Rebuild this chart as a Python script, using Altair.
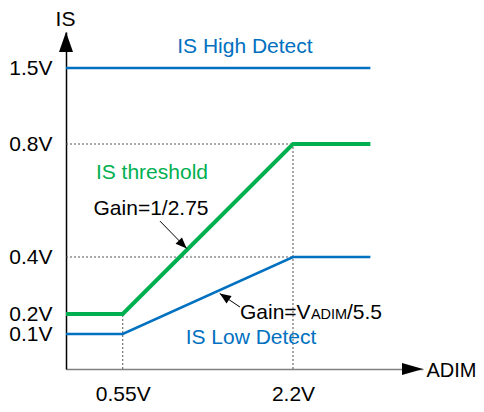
import altair as alt
import pandas as pd

# ---- axis ticks / labels ----
x_ticks = [0.55, 2.2]
y_ticks = [0.1, 0.2, 0.4, 0.8, 1.5]
x_max = 3.46
y_max = 1.8

# schematic (piecewise) y axis: breakpoints and their pixel positions
y_domain = [0, 0.1, 0.2, 0.4, 0.8, 1.5, y_max]
y_range = [337, 302, 282, 225, 112, 36, 0]

# ---- series ----
high_x = [0, 2.95]
high_y = [1.5, 1.5]
thr_x = [0, 0.55, 2.2, 2.95]
thr_y = [0.2, 0.2, 0.8, 0.8]
low_x = [0, 0.55, 2.2, 2.95]
low_y = [0.1, 0.1, 0.4, 0.4]

# dotted guide lines (x1, y1, x2, y2)
guide_x1 = [0, 0, 0.55, 2.2]
guide_y1 = [0.8, 0.4, 0, 0]
guide_x2 = [2.2, 2.2, 0.55, 2.2]
guide_y2 = [0.8, 0.4, 0.2, 0.8]

# annotation arrows (tail -> tip)
arr_x1 = [0.911, 1.686]
arr_y1 = [0.527, 0.2246]
arr_x2 = [1.17, 1.49]
arr_y2 = [0.43, 0.272]
arr_angle = [45, 214]

# centred labels
lab_text = ["IS High Detect", "IS threshold", "Gain=1/2.75", "IS Low Detect"]
lab_x = [1.734, 0.833, 0.824, 1.793]
lab_y = [1.625, 0.676, 0.549, 0.0714]
lab_color = ["#0070C0", "#00B050", "black", "#0070C0"]

# left-aligned pieces of "Gain=V_ADIM/5.5"
g_text = ["Gain=V", "ADIM", "/5.5"]
g_x = [1.686, 2.374, 2.723]
g_y = [0.175, 0.175, 0.175]
g_size = [21, 14.5, 21]

BLUE = "#0070C0"
GREEN = "#00B050"
FONT = "Liberation Sans"

xs = alt.Scale(domain=[0, x_max], nice=False, zero=False)
ys = alt.Scale(type="linear", domain=y_domain, range=y_range, nice=False, zero=False)

x_axis = alt.Axis(values=x_ticks, labelExpr="datum.value + 'V'", grid=False, ticks=False,
                  domainColor="#808080", domainWidth=1.5, labelFontSize=21, labelFont=FONT,
                  labelColor="black", labelPadding=14, labelFlush=False, labelOverlap=False,
                  title="ADIM", titleX=360, titleY=7, titleAlign="left",
                  titleBaseline="alphabetic", titleFontSize=20, titleFont=FONT,
                  titleFontWeight="normal", titleColor="black", titleAngle=0)
y_axis = alt.Axis(values=y_ticks, labelExpr="datum.value + 'V'", grid=False, ticks=False,
                  domainColor="black", domainWidth=1.5, labelFontSize=21, labelFont=FONT,
                  labelColor="black", labelPadding=14, labelFlush=False, labelOverlap=False,
                  title="IS", titleX=-1, titleY=-7, titleAlign="center",
                  titleBaseline="alphabetic", titleFontSize=21, titleFont=FONT,
                  titleFontWeight="normal", titleColor="black", titleAngle=0)


def X(f):
    return alt.X(f, type="quantitative", scale=xs, axis=x_axis)


def Y(f):
    return alt.Y(f, type="quantitative", scale=ys, axis=y_axis)


def line_df(xv, yv):
    return pd.DataFrame({"x": xv, "y": yv, "o": list(range(len(xv)))})


high = alt.Chart(line_df(high_x, high_y)).mark_line(color=BLUE, strokeWidth=2.5).encode(
    x=X("x"), y=Y("y"), order="o:Q")
thr = alt.Chart(line_df(thr_x, thr_y)).mark_line(color=GREEN, strokeWidth=4).encode(
    x=X("x"), y=Y("y"), order="o:Q")
low = alt.Chart(line_df(low_x, low_y)).mark_line(color=BLUE, strokeWidth=2.5).encode(
    x=X("x"), y=Y("y"), order="o:Q")

guides = alt.Chart(pd.DataFrame({"x": guide_x1, "y": guide_y1, "x2": guide_x2, "y2": guide_y2})
                   ).mark_rule(color="#555555", strokeWidth=1, strokeDash=[2, 2]).encode(
    x=X("x"), y=Y("y"), x2="x2:Q", y2="y2:Q")

arrows = alt.Chart(pd.DataFrame({"x": arr_x1, "y": arr_y1, "x2": arr_x2, "y2": arr_y2})
                   ).mark_rule(color="black", strokeWidth=1).encode(
    x=X("x"), y=Y("y"), x2="x2:Q", y2="y2:Q")

head_df = pd.DataFrame({
    "x": [0, x_max] + arr_x2,
    "y": [y_max, 0] + arr_y2,
    "shape": ["M0,0L-1,2.857L1,2.857Z", "M0,0L-3.5,-1L-3.5,1Z",
              "M0,0L-2.5,-1L-2.5,1Z", "M0,0L-2.5,-1L-2.5,1Z"],
    "size": [196, 144, 81, 81],
    "angle": [0, 0] + arr_angle,
})
heads = alt.Chart(head_df).mark_point(filled=True, opacity=1, color="black", strokeWidth=0).encode(
    x=X("x"), y=Y("y"),
    shape=alt.Shape("shape:N", scale=None),
    size=alt.Size("size:Q", scale=None),
    angle=alt.Angle("angle:Q", scale=None))

labels = alt.Chart(pd.DataFrame({"t": lab_text, "x": lab_x, "y": lab_y, "c": lab_color})
                   ).mark_text(font=FONT, fontSize=21, align="center", baseline="alphabetic").encode(
    x=X("x"), y=Y("y"), text="t:N", color=alt.Color("c:N", scale=None))

gain2 = alt.Chart(pd.DataFrame({"t": g_text, "x": g_x, "y": g_y, "s": g_size})
                  ).mark_text(font=FONT, align="left", baseline="alphabetic", color="black").encode(
    x=X("x"), y=Y("y"), text="t:N", size=alt.Size("s:Q", scale=None))

chart = alt.layer(guides, high, thr, low, arrows, heads, labels, gain2).properties(
    width=357, height=337,
    autosize=alt.AutoSizeParams(type="none"),
    padding={"left": 58, "top": 24, "right": 53, "bottom": 35},
).configure_view(stroke=None)

chart.save("out.html", embed_options={"renderer": "svg", "actions": False})
